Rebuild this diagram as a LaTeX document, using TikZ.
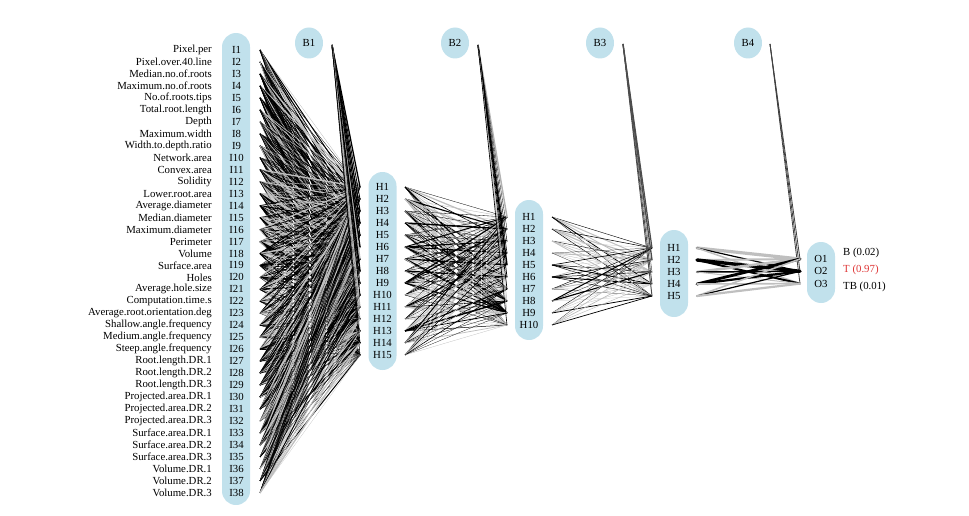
\documentclass[tikz,border=0pt]{standalone}
\usepackage{fontspec}
\setmainfont{Liberation Serif}
\usepackage{xcolor}
\usetikzlibrary{arrows.meta,positioning,shapes.geometric}
\definecolor{netblue}{RGB}{193,225,236}
\definecolor{outred}{RGB}{222,52,52}

\begin{document}
\begin{tikzpicture}[x=1pt,y=-1pt,
    lyr/.style={fill=netblue,rounded corners=14pt,minimum width=28pt,inner sep=0pt},
    bias/.style={ellipse,fill=netblue,minimum width=28pt,minimum height=31pt,inner sep=0pt,font=\fontsize{10.8}{12}\selectfont},
    lbl/.style={inner sep=0pt,font=\fontsize{10.8}{12}\selectfont}]
    \useasboundingbox (0,0) rectangle (969,516);
    \pgfmathsetseed{2718}

    \node[lyr,minimum height=472pt] (inpill) at (236,269) {};
    \node[lyr,minimum height=198pt] (h1pill) at (382.5,271) {};
    \node[lyr,minimum height=140pt] (h2pill) at (529,270) {};
    \node[lyr,minimum height=87pt] (h3pill) at (674,273.5) {};
    \node[lyr,minimum height=61pt] (outpill) at (821,272.5) {};

    \node[bias] (b1) at (309,43) {B1};
    \node[bias] (b2) at (455,43) {B2};
    \node[bias] (b3) at (600,43) {B3};
    \node[bias] (b4) at (748,43) {B4};
    \coordinate (b1a) at (332,45);
    \coordinate (b2a) at (478,45);
    \coordinate (b3a) at (623,44);
    \coordinate (b4a) at (770,44);

    \foreach \k/\name in {1/Pixel.per,2/Pixel.over.40.line,3/Median.no.of.roots,
        4/Maximum.no.of.roots,5/No.of.roots.tips,6/Total.root.length,7/Depth,
        8/Maximum.width,9/Width.to.depth.ratio,10/Network.area,11/Convex.area,
        12/Solidity,13/Lower.root.area,14/Average.diameter,15/Median.diameter,
        16/Maximum.diameter,17/Perimeter,18/Volume,19/Surface.area,20/Holes,
        21/Average.hole.size,22/Computation.time.s,23/Average.root.orientation.deg,
        24/Shallow.angle.frequency,25/Medium.angle.frequency,26/Steep.angle.frequency,
        27/Root.length.DR.1,28/Root.length.DR.2,29/Root.length.DR.3,
        30/Projected.area.DR.1,31/Projected.area.DR.2,32/Projected.area.DR.3,
        33/Surface.area.DR.1,34/Surface.area.DR.2,35/Surface.area.DR.3,
        36/Volume.DR.1,37/Volume.DR.2,38/Volume.DR.3} {
        \node[lbl,anchor=east] (n\k) at (212,{50+(\k-1)*11.97}) {\name};
        \node[lbl] (i\k) at (236.5,{50+(\k-1)*11.97}) {I\k};
        \coordinate (ia\k) at (260,{50+(\k-1)*11.97});
    }
    \foreach \j in {1,...,15} {
        \node[lbl] (h\j) at (382.5,{187+(\j-1)*12}) {H\j};
        \coordinate (hin\j) at (360,{187+(\j-1)*12});
        \coordinate (hout\j) at (405,{187+(\j-1)*12});
    }
    \foreach \j in {1,...,10} {
        \node[lbl] (g\j) at (529,{217+(\j-1)*12}) {H\j};
        \coordinate (gin\j) at (507,{217+(\j-1)*12});
        \coordinate (gout\j) at (552,{217+(\j-1)*12});
    }
    \foreach \j in {1,...,5} {
        \node[lbl] (f\j) at (674,{248+(\j-1)*12}) {H\j};
        \coordinate (fin\j) at (652,{248+(\j-1)*12});
        \coordinate (fout\j) at (697,{248+(\j-1)*12});
    }
    \foreach \j in {1,2,3} {
        \node[lbl] (o\j) at (821,{259+(\j-1)*12.3}) {O\j};
        \coordinate (oin\j) at (800,{259+(\j-1)*12.3});
    }
    \node[lbl,anchor=west] (r1) at (843,253) {B (0.02)};
    \node[lbl,anchor=west,text=outred] (r2) at (843,270) {T (0.97)};
    \node[lbl,anchor=west] (r3) at (843,287) {TB (0.01)};

    \foreach \k in {1,...,38} {
        \foreach \j in {1,...,15} {
            \pgfmathsetmacro\lw{0.2+1.6*rnd*rnd}
            \pgfmathtruncatemacro\gr{rnd<0.6 ? 100 : 25}
            \draw[line width=\lw pt,draw=black!\gr] (ia\k) -- (hin\j);
        }
    }
    \foreach \j in {1,...,15} {
        \pgfmathsetmacro\lw{0.3+1.2*rnd}
        \pgfmathtruncatemacro\gr{rnd<0.7 ? 100 : 30}
        \draw[line width=\lw pt,draw=black!\gr] (b1a) -- (hin\j);
        \foreach \m in {1,...,10} {
            \pgfmathsetmacro\lw{0.2+1.6*rnd*rnd}
            \pgfmathtruncatemacro\gr{rnd<0.55 ? 100 : 25}
            \draw[line width=\lw pt,draw=black!\gr] (hout\j) -- (gin\m);
        }
    }
    \foreach \m in {1,...,10} {
        \pgfmathsetmacro\lw{0.3+1.2*rnd}
        \pgfmathtruncatemacro\gr{rnd<0.7 ? 100 : 30}
        \draw[line width=\lw pt,draw=black!\gr] (b2a) -- (gin\m);
        \foreach \p in {1,...,5} {
            \pgfmathsetmacro\lw{0.2+1.6*rnd*rnd}
            \pgfmathtruncatemacro\gr{rnd<0.5 ? 100 : 25}
            \draw[line width=\lw pt,draw=black!\gr] (gout\m) -- (fin\p);
        }
    }
    \foreach \p in {1,...,5} {
        \pgfmathsetmacro\lw{0.4+1.0*rnd}
        \draw[line width=\lw pt,draw=black!70] (b3a) -- (fin\p);
    }
    \foreach \q in {1,2,3} {
        \draw[line width=0.8pt,draw=black!75] (b4a) -- (oin\q);
    }
    \foreach \p/\q/\lw/\gr in {1/1/3.2/25,1/2/1.2/100,1/3/1.5/25,
        2/1/2.0/25,2/2/3.4/100,2/3/2.0/100,
        3/1/2.6/25,3/2/1.5/100,3/3/1.0/25,
        4/1/2.8/100,4/2/2.2/100,4/3/1.6/25,
        5/1/1.6/25,5/2/1.2/100,5/3/2.2/25} {
        \draw[line width=\lw pt,draw=black!\gr,line cap=round] (fout\p) -- (oin\q);
    }
\end{tikzpicture}
\end{document}
